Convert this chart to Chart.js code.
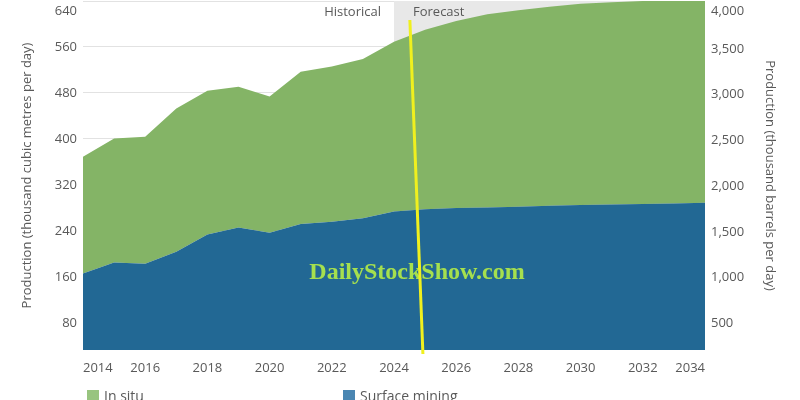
<!DOCTYPE html>
<html lang="en">
<head>
  <meta charset="UTF-8" />
  <title>Oil sands production</title>
  <script src="https://cdn.jsdelivr.net/npm/chart.js"></script>
  <style>
    html, body { margin: 0; padding: 0; background: #fff; overflow: hidden; }
    #wrap { position: relative; width: 800px; height: 400px; overflow: hidden; }
    #legend { position: absolute; top: 386px; left: 87px; font: 14px 'Open Sans', sans-serif; color: #595959; }
    #legend span.item { position: absolute; white-space: nowrap; }
    #legend i { display: inline-block; width: 12px; height: 12px; vertical-align: -1px; margin-right: 5px; }
  </style>
</head>
<body>
  <div id="wrap">
    <canvas id="chart" width="800" height="400"></canvas>
    <div id="legend"></div>
  </div>

  <script>
    // values in thousand cubic metres per day
    const years = [2014, 2015, 2016, 2017, 2018, 2019, 2020, 2021, 2022, 2023, 2024,
                   2025, 2026, 2027, 2028, 2029, 2030, 2031, 2032, 2033, 2034];
    const surfaceMining = [166, 185, 183, 204, 234, 246, 237, 252, 256, 262, 274,
                           278, 280, 281, 282, 284, 285, 286, 287, 288, 289];
    const totalProduction = [369, 401, 404, 453, 484, 491, 474, 517, 526, 539, 569,
                             590, 605, 617, 624, 630, 635, 638, 640, 640, 640];
    const inSitu = totalProduction.map((t, i) => t - surfaceMining[i]);

    const leftTicks = [80, 160, 240, 320, 400, 480, 560, 640];
    const rightTicks = [500, 1000, 1500, 2000, 2500, 3000, 3500, 4000];
    const xTicks = [2014, 2016, 2018, 2020, 2022, 2024, 2026, 2028, 2030, 2032, 2034];
    const forecastStart = 2024;
    const BBL_PER_M3 = 6.2898;

    const GREEN = "#84b466";
    const BLUE = "#226894";
    const TXT = "#595959";

    Chart.defaults.font.family = "'Open Sans', sans-serif";
    Chart.defaults.font.size = 13;
    Chart.defaults.color = TXT;

    // gray forecast band + Historical / Forecast labels
    const forecastBand = {
      id: "forecastBand",
      beforeDatasetsDraw(chart) {
        const { ctx, chartArea: a, scales: { x } } = chart;
        const fx = x.getPixelForValue(forecastStart);
        ctx.save();
        ctx.fillStyle = "#e8e8e8";
        ctx.fillRect(fx, a.top, a.right - fx, a.bottom - a.top);
        ctx.fillStyle = TXT;
        ctx.font = "13px 'Open Sans', sans-serif";
        ctx.textBaseline = "middle";
        ctx.textAlign = "right";
        ctx.fillText("Historical", fx - 13, a.top + 11);
        ctx.textAlign = "left";
        ctx.fillText("Forecast", fx + 19, a.top + 11);
        ctx.restore();
      }
    };

    // keep the top tick labels inside the plot like the original
    const clampTopLabels = {
      id: "clampTopLabels",
      beforeDraw(chart) {
        ["y", "y2"].forEach(id => {
          const s = chart.scales[id];
          s.getLabelItems(chart.chartArea).forEach(it => {
            const t = it.options.translation;
            if (t[1] < chart.chartArea.top + 10) t[1] = chart.chartArea.top + 10;
          });
        });
      }
    };

    // watermark + yellow marker line on top
    const overlay = {
      id: "overlay",
      afterDraw(chart) {
        const { ctx, scales: { x, y } } = chart;
        ctx.save();
        ctx.font = "bold 24px 'Liberation Serif', serif";
        ctx.fillStyle = "#a6e04e";
        ctx.textAlign = "center";
        ctx.textBaseline = "alphabetic";
        ctx.fillText("DailyStockShow.com", x.getPixelForValue(2024.74), y.getPixelForValue(157));
        ctx.strokeStyle = "#f0f01e";
        ctx.lineWidth = 3;
        ctx.beginPath();
        ctx.moveTo(x.getPixelForValue(2024.51), y.getPixelForValue(607));
        ctx.lineTo(x.getPixelForValue(2024.93), y.getPixelForValue(26));
        ctx.stroke();
        ctx.restore();
      }
    };

    const pts = arr => arr.map((v, i) => ({ x: years[i], y: v }));

    new Chart(document.getElementById("chart"), {
      type: "line",
      data: {
        datasets: [
          { label: "Surface mining", data: pts(surfaceMining), backgroundColor: BLUE, borderWidth: 0,
            pointRadius: 0, fill: "origin", tension: 0 },
          { label: "In situ", data: pts(inSitu), backgroundColor: GREEN, borderWidth: 0,
            pointRadius: 0, fill: "-1", tension: 0 }
        ]
      },
      options: {
        responsive: false,
        animation: false,
        layout: { padding: { top: 1, left: 0, right: 0, bottom: 0 } },
        plugins: { legend: { display: false }, tooltip: { enabled: false } },
        scales: {
          x: {
            type: "linear",
            min: 2014, max: 2034,
            grid: { display: false },
            border: { display: false },
            afterBuildTicks: s => { s.ticks = xTicks.map(v => ({ value: v })); },
            ticks: { align: "inner", padding: 2, maxRotation: 0, autoSkip: false, callback: v => String(v) },
            afterFit: s => { s.height = 50; s.paddingLeft = 0; s.paddingRight = 0; }
          },
          y: {
            position: "left",
            stacked: true,
            min: 33, max: 640,
            grid: { color: "#e2e2e2", drawTicks: false },
            border: { display: false },
            afterBuildTicks: s => { s.ticks = leftTicks.map(v => ({ value: v })); },
            ticks: { padding: 6 },
            title: { display: true, text: "Production (thousand cubic metres per day)", font: { size: 13 },
                     color: TXT, padding: { top: 19, bottom: 0 } },
            afterFit: s => { s.width = 83; s.paddingTop = 0; s.paddingBottom = 0; }
          },
          y2: {
            position: "right",
            min: 33 * BBL_PER_M3, max: 640 * BBL_PER_M3,
            grid: { display: false, drawTicks: false },
            border: { display: false },
            afterBuildTicks: s => { s.ticks = rightTicks.map(v => ({ value: v })); },
            ticks: { padding: 6, callback: v => v.toLocaleString("en-US") },
            title: { display: true, text: "Production (thousand barrels per day)", font: { size: 13 },
                     color: TXT, padding: { top: 22, bottom: 0 } },
            afterFit: s => { s.width = 95; s.paddingTop = 0; s.paddingBottom = 0; }
          }
        }
      },
      plugins: [forecastBand, clampTopLabels, overlay]
    });

    // legend: In situ first, then Surface mining
    const legendItems = [
      { text: "In situ", color: "#98c47f", left: 0 },
      { text: "Surface mining", color: "#4a86b2", left: 256 }
    ];
    const lg = document.getElementById("legend");
    legendItems.forEach(it => {
      const el = document.createElement("span");
      el.className = "item";
      el.style.left = it.left + "px";
      el.innerHTML = `<i style="background:${it.color}"></i>${it.text}`;
      lg.appendChild(el);
    });
  </script>
</body>
</html>
